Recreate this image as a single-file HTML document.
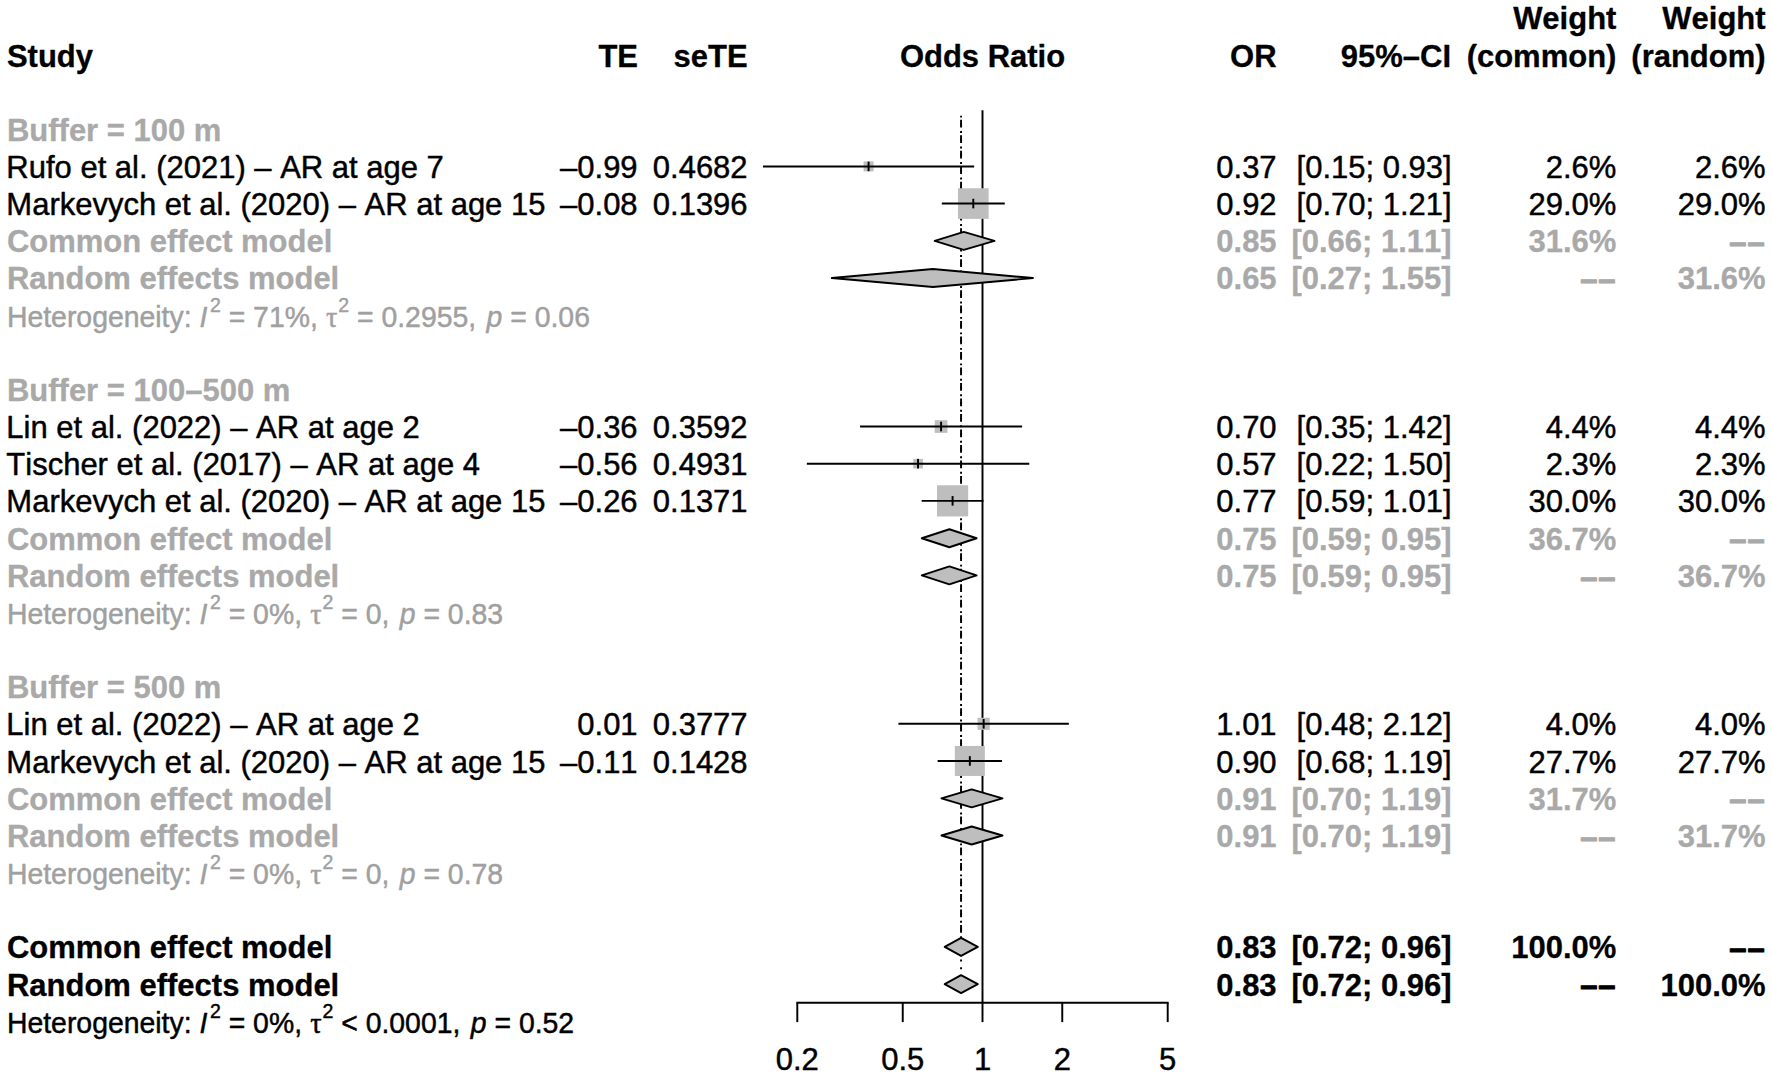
<!DOCTYPE html>
<html lang="en"><head><meta charset="utf-8"><title>Forest plot</title>
<style>html,body{margin:0;padding:0;background:#fff}body{width:1772px;height:1078px;overflow:hidden}svg{display:block}text{white-space:pre;font-kerning:none;stroke-width:0.45px;stroke-linejoin:round}text[font-weight=bold]{stroke-width:0.3px}</style>
</head><body>
<svg width="1772" height="1078" viewBox="0 0 1772 1078" font-family="'Liberation Sans',Arial,Helvetica,sans-serif"><line x1="961.06" y1="115.63" x2="961.06" y2="983.93" stroke="#000" stroke-width="1.94" stroke-dasharray="1.9356 5.8068"/>
<line x1="961.06" y1="119.8" x2="961.06" y2="946.77" stroke="#000" stroke-width="1.94" stroke-dasharray="7.7424 7.7424"/>
<line x1="982.50" y1="110.2" x2="982.50" y2="1002.7" stroke="#000" stroke-width="1.94"/>
<polygon points="934.69,240.93 963.80,231.93 994.51,240.93 963.80,249.93" fill="#bebebe" stroke="#000" stroke-width="1.94" stroke-linejoin="round"/>
<polygon points="831.83,278.09 932.93,269.09 1032.93,278.09 932.93,287.09" fill="#bebebe" stroke="#000" stroke-width="1.94" stroke-linejoin="round"/>
<polygon points="921.78,538.21 949.40,529.21 976.60,538.21 949.40,547.21" fill="#bebebe" stroke="#000" stroke-width="1.94" stroke-linejoin="round"/>
<polygon points="921.78,575.37 949.40,566.37 976.60,575.37 949.40,584.37" fill="#bebebe" stroke="#000" stroke-width="1.94" stroke-linejoin="round"/>
<polygon points="941.46,798.33 971.65,789.33 1002.52,798.33 971.65,807.33" fill="#bebebe" stroke="#000" stroke-width="1.94" stroke-linejoin="round"/>
<polygon points="941.46,835.49 971.65,826.49 1002.52,835.49 971.65,844.49" fill="#bebebe" stroke="#000" stroke-width="1.94" stroke-linejoin="round"/>
<polygon points="944.70,946.97 961.06,937.97 977.80,946.97 961.06,955.97" fill="#bebebe" stroke="#000" stroke-width="1.94" stroke-linejoin="round"/>
<polygon points="944.70,984.13 961.06,975.13 977.80,984.13 961.06,993.13" fill="#bebebe" stroke="#000" stroke-width="1.94" stroke-linejoin="round"/>
<rect x="863.56" y="161.39" width="10.04" height="10.04" fill="#bebebe"/>
<line x1="762.98" y1="166.41" x2="974.18" y2="166.41" stroke="#000" stroke-width="1.94"/>
<line x1="868.58" y1="161.61" x2="868.58" y2="171.21" stroke="#000" stroke-width="1.94"/>
<rect x="957.97" y="188.25" width="30.65" height="30.65" fill="#bebebe"/>
<line x1="941.81" y1="203.57" x2="1004.78" y2="203.57" stroke="#000" stroke-width="1.94"/>
<line x1="973.29" y1="198.77" x2="973.29" y2="208.37" stroke="#000" stroke-width="1.94"/>
<rect x="934.73" y="420.18" width="12.69" height="12.69" fill="#bebebe"/>
<line x1="860.06" y1="426.53" x2="1022.09" y2="426.53" stroke="#000" stroke-width="1.94"/>
<line x1="941.07" y1="421.73" x2="941.07" y2="431.33" stroke="#000" stroke-width="1.94"/>
<rect x="913.26" y="458.89" width="9.59" height="9.59" fill="#bebebe"/>
<line x1="806.85" y1="463.69" x2="1029.27" y2="463.69" stroke="#000" stroke-width="1.94"/>
<line x1="918.06" y1="458.89" x2="918.06" y2="468.49" stroke="#000" stroke-width="1.94"/>
<rect x="936.99" y="485.26" width="31.19" height="31.19" fill="#bebebe"/>
<line x1="921.66" y1="500.85" x2="983.50" y2="500.85" stroke="#000" stroke-width="1.94"/>
<line x1="952.58" y1="496.05" x2="952.58" y2="505.65" stroke="#000" stroke-width="1.94"/>
<rect x="977.58" y="717.74" width="12.14" height="12.14" fill="#bebebe"/>
<line x1="898.46" y1="723.81" x2="1068.84" y2="723.81" stroke="#000" stroke-width="1.94"/>
<line x1="983.65" y1="719.01" x2="983.65" y2="728.61" stroke="#000" stroke-width="1.94"/>
<rect x="954.85" y="745.97" width="29.99" height="29.99" fill="#bebebe"/>
<line x1="937.64" y1="760.97" x2="1002.05" y2="760.97" stroke="#000" stroke-width="1.94"/>
<line x1="969.84" y1="756.17" x2="969.84" y2="765.77" stroke="#000" stroke-width="1.94"/>
<line x1="796.35" y1="1002.7" x2="1168.65" y2="1002.7" stroke="#000" stroke-width="1.94"/>
<line x1="797.30" y1="1002.7" x2="797.30" y2="1022.1" stroke="#000" stroke-width="1.94"/>
<line x1="902.74" y1="1002.7" x2="902.74" y2="1022.1" stroke="#000" stroke-width="1.94"/>
<line x1="982.50" y1="1002.7" x2="982.50" y2="1022.1" stroke="#000" stroke-width="1.94"/>
<line x1="1062.26" y1="1002.7" x2="1062.26" y2="1022.1" stroke="#000" stroke-width="1.94"/>
<line x1="1167.70" y1="1002.7" x2="1167.70" y2="1022.1" stroke="#000" stroke-width="1.94"/>
<text transform="translate(6.95 66.53) scale(1 1.035)" text-anchor="start" font-size="31.0" font-weight="bold" fill="#000" stroke="#000">Study</text>
<text transform="translate(638.00 66.53) scale(1 1.035)" text-anchor="end" font-size="31.0" font-weight="bold" fill="#000" stroke="#000">TE</text>
<text transform="translate(747.60 66.53) scale(1 1.035)" text-anchor="end" font-size="31.0" font-weight="bold" fill="#000" stroke="#000">seTE</text>
<text transform="translate(982.50 66.53) scale(1 1.035)" text-anchor="middle" font-size="31.0" font-weight="bold" fill="#000" stroke="#000">Odds Ratio</text>
<text transform="translate(1276.60 66.53) scale(1 1.035)" text-anchor="end" font-size="31.0" font-weight="bold" fill="#000" stroke="#000">OR</text>
<text transform="translate(1451.00 66.53) scale(1 1.035)" text-anchor="end" font-size="31.0" font-weight="bold" fill="#000" stroke="#000">95%–CI</text>
<text transform="translate(1616.40 29.37) scale(1 1.035)" text-anchor="end" font-size="31.0" font-weight="bold" fill="#000" stroke="#000">Weight</text>
<text transform="translate(1616.40 66.53) scale(1 1.035)" text-anchor="end" font-size="31.0" font-weight="bold" fill="#000" stroke="#000">(common)</text>
<text transform="translate(1765.60 29.37) scale(1 1.035)" text-anchor="end" font-size="31.0" font-weight="bold" fill="#000" stroke="#000">Weight</text>
<text transform="translate(1765.60 66.53) scale(1 1.035)" text-anchor="end" font-size="31.0" font-weight="bold" fill="#000" stroke="#000">(random)</text>
<text transform="translate(6.95 140.85) scale(1 1.035)" text-anchor="start" font-size="31.0" font-weight="bold" fill="#a9a9a9" stroke="#a9a9a9">Buffer = 100 m</text>
<text transform="translate(6.35 178.01) scale(1 1.035)" text-anchor="start" font-size="31.0" fill="#000" stroke="#000">Rufo et al. (2021) – AR at age 7</text>
<text transform="translate(637.60 178.01) scale(1 1.035)" text-anchor="end" font-size="31.0" fill="#000" stroke="#000">–0.99</text>
<text transform="translate(747.60 178.01) scale(1 1.035)" text-anchor="end" font-size="31.0" fill="#000" stroke="#000">0.4682</text>
<text transform="translate(1276.60 178.01) scale(1 1.035)" text-anchor="end" font-size="31.0" fill="#000" stroke="#000">0.37</text>
<text transform="translate(1451.60 178.01) scale(1 1.035)" text-anchor="end" font-size="31.0" fill="#000" stroke="#000">[0.15; 0.93]</text>
<text transform="translate(1616.40 178.01) scale(1 1.035)" text-anchor="end" font-size="31.0" fill="#000" stroke="#000">2.6%</text>
<text transform="translate(1765.60 178.01) scale(1 1.035)" text-anchor="end" font-size="31.0" fill="#000" stroke="#000">2.6%</text>
<text transform="translate(6.35 215.17) scale(1 1.035)" text-anchor="start" font-size="31.0" fill="#000" stroke="#000">Markevych et al. (2020) – AR at age 15</text>
<text transform="translate(637.60 215.17) scale(1 1.035)" text-anchor="end" font-size="31.0" fill="#000" stroke="#000">–0.08</text>
<text transform="translate(747.60 215.17) scale(1 1.035)" text-anchor="end" font-size="31.0" fill="#000" stroke="#000">0.1396</text>
<text transform="translate(1276.60 215.17) scale(1 1.035)" text-anchor="end" font-size="31.0" fill="#000" stroke="#000">0.92</text>
<text transform="translate(1451.60 215.17) scale(1 1.035)" text-anchor="end" font-size="31.0" fill="#000" stroke="#000">[0.70; 1.21]</text>
<text transform="translate(1616.40 215.17) scale(1 1.035)" text-anchor="end" font-size="31.0" fill="#000" stroke="#000">29.0%</text>
<text transform="translate(1765.60 215.17) scale(1 1.035)" text-anchor="end" font-size="31.0" fill="#000" stroke="#000">29.0%</text>
<text transform="translate(6.95 252.33) scale(1 1.035)" text-anchor="start" font-size="31.0" font-weight="bold" fill="#a9a9a9" stroke="#a9a9a9">Common effect model</text>
<text transform="translate(1276.60 252.33) scale(1 1.035)" text-anchor="end" font-size="31.0" font-weight="bold" fill="#a9a9a9" stroke="#a9a9a9">0.85</text>
<text transform="translate(1451.60 252.33) scale(1 1.035)" text-anchor="end" font-size="31.0" font-weight="bold" fill="#a9a9a9" stroke="#a9a9a9">[0.66; 1.11]</text>
<text transform="translate(1616.40 252.33) scale(1 1.035)" text-anchor="end" font-size="31.0" font-weight="bold" fill="#a9a9a9" stroke="#a9a9a9">31.6%</text>
<text transform="translate(1765.60 252.33) scale(1 1.035)" text-anchor="end" font-size="31.0" font-weight="bold" fill="#a9a9a9" stroke="#a9a9a9" dy="0.7" style="stroke-width:1px;letter-spacing:0.9px">––</text>
<text transform="translate(6.95 289.49) scale(1 1.035)" text-anchor="start" font-size="31.0" font-weight="bold" fill="#a9a9a9" stroke="#a9a9a9">Random effects model</text>
<text transform="translate(1276.60 289.49) scale(1 1.035)" text-anchor="end" font-size="31.0" font-weight="bold" fill="#a9a9a9" stroke="#a9a9a9">0.65</text>
<text transform="translate(1451.60 289.49) scale(1 1.035)" text-anchor="end" font-size="31.0" font-weight="bold" fill="#a9a9a9" stroke="#a9a9a9">[0.27; 1.55]</text>
<text transform="translate(1616.40 289.49) scale(1 1.035)" text-anchor="end" font-size="31.0" font-weight="bold" fill="#a9a9a9" stroke="#a9a9a9" dy="0.7" style="stroke-width:1px;letter-spacing:0.9px">––</text>
<text transform="translate(1765.60 289.49) scale(1 1.035)" text-anchor="end" font-size="31.0" font-weight="bold" fill="#a9a9a9" stroke="#a9a9a9">31.6%</text>
<text transform="translate(0 326.65) scale(1 1.035)" font-size="28.4" fill="#a0a0a0" stroke="#a0a0a0"><tspan x="6.95" y="0">Heterogeneity: </tspan><tspan x="199.50" y="0" font-style="italic">I</tspan><tspan x="209.89" y="-14.11" font-size="19.5">2</tspan><tspan x="220.75" y="0"> = 71%, </tspan><tspan x="326.02" y="0" font-family="'Liberation Serif',serif" font-size="28.4">τ</tspan><tspan x="338.22" y="-14.11" font-size="19.5">2</tspan><tspan x="349.07" y="0"> = 0.2955, </tspan><tspan x="486.54" y="0" font-style="italic">p</tspan><tspan x="502.34" y="0"> = 0.06</tspan></text>
<text transform="translate(6.95 400.97) scale(1 1.035)" text-anchor="start" font-size="31.0" font-weight="bold" fill="#a9a9a9" stroke="#a9a9a9">Buffer = 100–500 m</text>
<text transform="translate(6.35 438.13) scale(1 1.035)" text-anchor="start" font-size="31.0" fill="#000" stroke="#000">Lin et al. (2022) – AR at age 2</text>
<text transform="translate(637.60 438.13) scale(1 1.035)" text-anchor="end" font-size="31.0" fill="#000" stroke="#000">–0.36</text>
<text transform="translate(747.60 438.13) scale(1 1.035)" text-anchor="end" font-size="31.0" fill="#000" stroke="#000">0.3592</text>
<text transform="translate(1276.60 438.13) scale(1 1.035)" text-anchor="end" font-size="31.0" fill="#000" stroke="#000">0.70</text>
<text transform="translate(1451.60 438.13) scale(1 1.035)" text-anchor="end" font-size="31.0" fill="#000" stroke="#000">[0.35; 1.42]</text>
<text transform="translate(1616.40 438.13) scale(1 1.035)" text-anchor="end" font-size="31.0" fill="#000" stroke="#000">4.4%</text>
<text transform="translate(1765.60 438.13) scale(1 1.035)" text-anchor="end" font-size="31.0" fill="#000" stroke="#000">4.4%</text>
<text transform="translate(6.35 475.29) scale(1 1.035)" text-anchor="start" font-size="31.0" fill="#000" stroke="#000">Tischer et al. (2017) – AR at age 4</text>
<text transform="translate(637.60 475.29) scale(1 1.035)" text-anchor="end" font-size="31.0" fill="#000" stroke="#000">–0.56</text>
<text transform="translate(747.60 475.29) scale(1 1.035)" text-anchor="end" font-size="31.0" fill="#000" stroke="#000">0.4931</text>
<text transform="translate(1276.60 475.29) scale(1 1.035)" text-anchor="end" font-size="31.0" fill="#000" stroke="#000">0.57</text>
<text transform="translate(1451.60 475.29) scale(1 1.035)" text-anchor="end" font-size="31.0" fill="#000" stroke="#000">[0.22; 1.50]</text>
<text transform="translate(1616.40 475.29) scale(1 1.035)" text-anchor="end" font-size="31.0" fill="#000" stroke="#000">2.3%</text>
<text transform="translate(1765.60 475.29) scale(1 1.035)" text-anchor="end" font-size="31.0" fill="#000" stroke="#000">2.3%</text>
<text transform="translate(6.35 512.45) scale(1 1.035)" text-anchor="start" font-size="31.0" fill="#000" stroke="#000">Markevych et al. (2020) – AR at age 15</text>
<text transform="translate(637.60 512.45) scale(1 1.035)" text-anchor="end" font-size="31.0" fill="#000" stroke="#000">–0.26</text>
<text transform="translate(747.60 512.45) scale(1 1.035)" text-anchor="end" font-size="31.0" fill="#000" stroke="#000">0.1371</text>
<text transform="translate(1276.60 512.45) scale(1 1.035)" text-anchor="end" font-size="31.0" fill="#000" stroke="#000">0.77</text>
<text transform="translate(1451.60 512.45) scale(1 1.035)" text-anchor="end" font-size="31.0" fill="#000" stroke="#000">[0.59; 1.01]</text>
<text transform="translate(1616.40 512.45) scale(1 1.035)" text-anchor="end" font-size="31.0" fill="#000" stroke="#000">30.0%</text>
<text transform="translate(1765.60 512.45) scale(1 1.035)" text-anchor="end" font-size="31.0" fill="#000" stroke="#000">30.0%</text>
<text transform="translate(6.95 549.61) scale(1 1.035)" text-anchor="start" font-size="31.0" font-weight="bold" fill="#a9a9a9" stroke="#a9a9a9">Common effect model</text>
<text transform="translate(1276.60 549.61) scale(1 1.035)" text-anchor="end" font-size="31.0" font-weight="bold" fill="#a9a9a9" stroke="#a9a9a9">0.75</text>
<text transform="translate(1451.60 549.61) scale(1 1.035)" text-anchor="end" font-size="31.0" font-weight="bold" fill="#a9a9a9" stroke="#a9a9a9">[0.59; 0.95]</text>
<text transform="translate(1616.40 549.61) scale(1 1.035)" text-anchor="end" font-size="31.0" font-weight="bold" fill="#a9a9a9" stroke="#a9a9a9">36.7%</text>
<text transform="translate(1765.60 549.61) scale(1 1.035)" text-anchor="end" font-size="31.0" font-weight="bold" fill="#a9a9a9" stroke="#a9a9a9" dy="0.7" style="stroke-width:1px;letter-spacing:0.9px">––</text>
<text transform="translate(6.95 586.77) scale(1 1.035)" text-anchor="start" font-size="31.0" font-weight="bold" fill="#a9a9a9" stroke="#a9a9a9">Random effects model</text>
<text transform="translate(1276.60 586.77) scale(1 1.035)" text-anchor="end" font-size="31.0" font-weight="bold" fill="#a9a9a9" stroke="#a9a9a9">0.75</text>
<text transform="translate(1451.60 586.77) scale(1 1.035)" text-anchor="end" font-size="31.0" font-weight="bold" fill="#a9a9a9" stroke="#a9a9a9">[0.59; 0.95]</text>
<text transform="translate(1616.40 586.77) scale(1 1.035)" text-anchor="end" font-size="31.0" font-weight="bold" fill="#a9a9a9" stroke="#a9a9a9" dy="0.7" style="stroke-width:1px;letter-spacing:0.9px">––</text>
<text transform="translate(1765.60 586.77) scale(1 1.035)" text-anchor="end" font-size="31.0" font-weight="bold" fill="#a9a9a9" stroke="#a9a9a9">36.7%</text>
<text transform="translate(0 623.93) scale(1 1.035)" font-size="28.4" fill="#a0a0a0" stroke="#a0a0a0"><tspan x="6.95" y="0">Heterogeneity: </tspan><tspan x="199.50" y="0" font-style="italic">I</tspan><tspan x="209.89" y="-14.11" font-size="19.5">2</tspan><tspan x="220.75" y="0"> = 0%, </tspan><tspan x="310.22" y="0" font-family="'Liberation Serif',serif" font-size="28.4">τ</tspan><tspan x="322.42" y="-14.11" font-size="19.5">2</tspan><tspan x="333.28" y="0"> = 0, </tspan><tspan x="399.70" y="0" font-style="italic">p</tspan><tspan x="415.50" y="0"> = 0.83</tspan></text>
<text transform="translate(6.95 698.25) scale(1 1.035)" text-anchor="start" font-size="31.0" font-weight="bold" fill="#a9a9a9" stroke="#a9a9a9">Buffer = 500 m</text>
<text transform="translate(6.35 735.41) scale(1 1.035)" text-anchor="start" font-size="31.0" fill="#000" stroke="#000">Lin et al. (2022) – AR at age 2</text>
<text transform="translate(637.60 735.41) scale(1 1.035)" text-anchor="end" font-size="31.0" fill="#000" stroke="#000">0.01</text>
<text transform="translate(747.60 735.41) scale(1 1.035)" text-anchor="end" font-size="31.0" fill="#000" stroke="#000">0.3777</text>
<text transform="translate(1276.60 735.41) scale(1 1.035)" text-anchor="end" font-size="31.0" fill="#000" stroke="#000">1.01</text>
<text transform="translate(1451.60 735.41) scale(1 1.035)" text-anchor="end" font-size="31.0" fill="#000" stroke="#000">[0.48; 2.12]</text>
<text transform="translate(1616.40 735.41) scale(1 1.035)" text-anchor="end" font-size="31.0" fill="#000" stroke="#000">4.0%</text>
<text transform="translate(1765.60 735.41) scale(1 1.035)" text-anchor="end" font-size="31.0" fill="#000" stroke="#000">4.0%</text>
<text transform="translate(6.35 772.57) scale(1 1.035)" text-anchor="start" font-size="31.0" fill="#000" stroke="#000">Markevych et al. (2020) – AR at age 15</text>
<text transform="translate(637.60 772.57) scale(1 1.035)" text-anchor="end" font-size="31.0" fill="#000" stroke="#000">–0.11</text>
<text transform="translate(747.60 772.57) scale(1 1.035)" text-anchor="end" font-size="31.0" fill="#000" stroke="#000">0.1428</text>
<text transform="translate(1276.60 772.57) scale(1 1.035)" text-anchor="end" font-size="31.0" fill="#000" stroke="#000">0.90</text>
<text transform="translate(1451.60 772.57) scale(1 1.035)" text-anchor="end" font-size="31.0" fill="#000" stroke="#000">[0.68; 1.19]</text>
<text transform="translate(1616.40 772.57) scale(1 1.035)" text-anchor="end" font-size="31.0" fill="#000" stroke="#000">27.7%</text>
<text transform="translate(1765.60 772.57) scale(1 1.035)" text-anchor="end" font-size="31.0" fill="#000" stroke="#000">27.7%</text>
<text transform="translate(6.95 809.73) scale(1 1.035)" text-anchor="start" font-size="31.0" font-weight="bold" fill="#a9a9a9" stroke="#a9a9a9">Common effect model</text>
<text transform="translate(1276.60 809.73) scale(1 1.035)" text-anchor="end" font-size="31.0" font-weight="bold" fill="#a9a9a9" stroke="#a9a9a9">0.91</text>
<text transform="translate(1451.60 809.73) scale(1 1.035)" text-anchor="end" font-size="31.0" font-weight="bold" fill="#a9a9a9" stroke="#a9a9a9">[0.70; 1.19]</text>
<text transform="translate(1616.40 809.73) scale(1 1.035)" text-anchor="end" font-size="31.0" font-weight="bold" fill="#a9a9a9" stroke="#a9a9a9">31.7%</text>
<text transform="translate(1765.60 809.73) scale(1 1.035)" text-anchor="end" font-size="31.0" font-weight="bold" fill="#a9a9a9" stroke="#a9a9a9" dy="0.7" style="stroke-width:1px;letter-spacing:0.9px">––</text>
<text transform="translate(6.95 846.89) scale(1 1.035)" text-anchor="start" font-size="31.0" font-weight="bold" fill="#a9a9a9" stroke="#a9a9a9">Random effects model</text>
<text transform="translate(1276.60 846.89) scale(1 1.035)" text-anchor="end" font-size="31.0" font-weight="bold" fill="#a9a9a9" stroke="#a9a9a9">0.91</text>
<text transform="translate(1451.60 846.89) scale(1 1.035)" text-anchor="end" font-size="31.0" font-weight="bold" fill="#a9a9a9" stroke="#a9a9a9">[0.70; 1.19]</text>
<text transform="translate(1616.40 846.89) scale(1 1.035)" text-anchor="end" font-size="31.0" font-weight="bold" fill="#a9a9a9" stroke="#a9a9a9" dy="0.7" style="stroke-width:1px;letter-spacing:0.9px">––</text>
<text transform="translate(1765.60 846.89) scale(1 1.035)" text-anchor="end" font-size="31.0" font-weight="bold" fill="#a9a9a9" stroke="#a9a9a9">31.7%</text>
<text transform="translate(0 884.05) scale(1 1.035)" font-size="28.4" fill="#a0a0a0" stroke="#a0a0a0"><tspan x="6.95" y="0">Heterogeneity: </tspan><tspan x="199.50" y="0" font-style="italic">I</tspan><tspan x="209.89" y="-14.11" font-size="19.5">2</tspan><tspan x="220.75" y="0"> = 0%, </tspan><tspan x="310.22" y="0" font-family="'Liberation Serif',serif" font-size="28.4">τ</tspan><tspan x="322.42" y="-14.11" font-size="19.5">2</tspan><tspan x="333.28" y="0"> = 0, </tspan><tspan x="399.70" y="0" font-style="italic">p</tspan><tspan x="415.50" y="0"> = 0.78</tspan></text>
<text transform="translate(6.95 958.37) scale(1 1.035)" text-anchor="start" font-size="31.0" font-weight="bold" fill="#000" stroke="#000">Common effect model</text>
<text transform="translate(1276.60 958.37) scale(1 1.035)" text-anchor="end" font-size="31.0" font-weight="bold" fill="#000" stroke="#000">0.83</text>
<text transform="translate(1451.60 958.37) scale(1 1.035)" text-anchor="end" font-size="31.0" font-weight="bold" fill="#000" stroke="#000">[0.72; 0.96]</text>
<text transform="translate(1616.40 958.37) scale(1 1.035)" text-anchor="end" font-size="31.0" font-weight="bold" fill="#000" stroke="#000">100.0%</text>
<text transform="translate(1765.60 958.37) scale(1 1.035)" text-anchor="end" font-size="31.0" font-weight="bold" fill="#000" stroke="#000" dy="0.7" style="stroke-width:1px;letter-spacing:0.9px">––</text>
<text transform="translate(6.95 995.53) scale(1 1.035)" text-anchor="start" font-size="31.0" font-weight="bold" fill="#000" stroke="#000">Random effects model</text>
<text transform="translate(1276.60 995.53) scale(1 1.035)" text-anchor="end" font-size="31.0" font-weight="bold" fill="#000" stroke="#000">0.83</text>
<text transform="translate(1451.60 995.53) scale(1 1.035)" text-anchor="end" font-size="31.0" font-weight="bold" fill="#000" stroke="#000">[0.72; 0.96]</text>
<text transform="translate(1616.40 995.53) scale(1 1.035)" text-anchor="end" font-size="31.0" font-weight="bold" fill="#000" stroke="#000" dy="0.7" style="stroke-width:1px;letter-spacing:0.9px">––</text>
<text transform="translate(1765.60 995.53) scale(1 1.035)" text-anchor="end" font-size="31.0" font-weight="bold" fill="#000" stroke="#000">100.0%</text>
<text transform="translate(0 1032.69) scale(1 1.035)" font-size="28.4" fill="#000" stroke="#000"><tspan x="6.95" y="0">Heterogeneity: </tspan><tspan x="199.50" y="0" font-style="italic">I</tspan><tspan x="209.89" y="-14.11" font-size="19.5">2</tspan><tspan x="220.75" y="0"> = 0%, </tspan><tspan x="310.22" y="0" font-family="'Liberation Serif',serif" font-size="28.4">τ</tspan><tspan x="322.42" y="-14.11" font-size="19.5">2</tspan><tspan x="333.28" y="0"> &lt; 0.0001, </tspan><tspan x="470.75" y="0" font-style="italic">p</tspan><tspan x="486.54" y="0"> = 0.52</tspan></text>
<text transform="translate(797.30 1069.60) scale(1 1.035)" text-anchor="middle" font-size="31.0" fill="#000" stroke="#000">0.2</text>
<text transform="translate(902.74 1069.60) scale(1 1.035)" text-anchor="middle" font-size="31.0" fill="#000" stroke="#000">0.5</text>
<text transform="translate(982.50 1069.60) scale(1 1.035)" text-anchor="middle" font-size="31.0" fill="#000" stroke="#000">1</text>
<text transform="translate(1062.26 1069.60) scale(1 1.035)" text-anchor="middle" font-size="31.0" fill="#000" stroke="#000">2</text>
<text transform="translate(1167.70 1069.60) scale(1 1.035)" text-anchor="middle" font-size="31.0" fill="#000" stroke="#000">5</text></svg>
</body></html>
